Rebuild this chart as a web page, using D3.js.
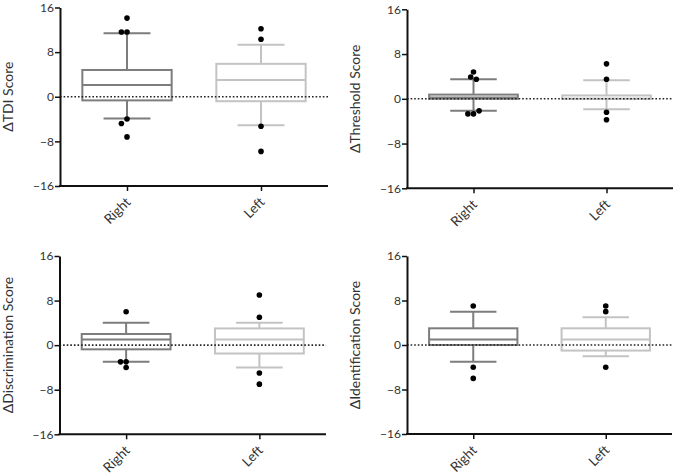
<!DOCTYPE html>
<html><head><meta charset="utf-8">
<script src="https://cdn.jsdelivr.net/npm/d3@7"></script>
<style>
body{margin:0;background:#fff;}
svg{display:block;font-family:Lato,"Open Sans",sans-serif;}
</style></head>
<body><svg id="c" width="678" height="475"></svg>
<script>
// ---- data ----
const categories = ["Right", "Left"];
const panelTitles = ["ΔTDI Score", "ΔThreshold Score", "ΔDiscrimination Score", "ΔIdentification Score"];
const yTicks = [-16, -8, 0, 8, 16];
// box stats: [whisker low, Q1, median, Q3, whisker high]
const tdiRight = [-3.9, -0.65, 2.1, 4.8, 11.4];
const tdiLeft = [-5.1, -0.8, 3.0, 5.9, 9.3];
const thrRight = [-2.15, 0, 0.25, 0.75, 3.5];
const thrLeft = [-1.85, 0, 0, 0.6, 3.3];
const disRight = [-3, -0.75, 1, 2, 4];
const disLeft = [-4, -1.5, 1, 3, 4];
const idnRight = [-3, 0, 1, 3, 6];
const idnLeft = [-2, -1, 1, 3, 5];
// outliers
const tdiRightOut = [14.1, 11.6, 11.6, -4, -4.8, -7.2];
const tdiLeftOut = [12.2, 10.3, -5.3, -9.8];
const thrRightOut = [4.8, 3.9, 3.5, -2.7, -2.7, -2.15];
const thrLeftOut = [6.25, 3.5, -2.4, -3.75];
const disRightOut = [6, -3, -3, -4];
const disLeftOut = [9, 5, -5, -7];
const idnRightOut = [7, -4, -6];
const idnLeftOut = [7, 6, -4];

const panelData = [
  {title: panelTitles[0], stats: [tdiRight, tdiLeft], out: [tdiRightOut, tdiLeftOut]},
  {title: panelTitles[1], stats: [thrRight, thrLeft], out: [thrRightOut, thrLeftOut]},
  {title: panelTitles[2], stats: [disRight, disLeft], out: [disRightOut, disLeftOut]},
  {title: panelTitles[3], stats: [idnRight, idnLeft], out: [idnRightOut, idnLeftOut]}
];

// ---- layout ----
const layouts = [
  {x0: 60, x1: 328, yTop: 7.5, yBot: 186},
  {x0: 407, x1: 673, yTop: 9.3, yBot: 188.3},
  {x0: 59.5, x1: 326, yTop: 256, yBot: 434.3},
  {x0: 407, x1: 672, yTop: 256, yBot: 434}
];
const colors = ["#7d7d7d", "#c3c3c3"];
const svg = d3.select("#c");

panelData.forEach((p, i) => {
  const L = layouts[i];
  const y = d3.scaleLinear().domain([-16, 16]).range([L.yBot, L.yTop]);
  const x = d3.scalePoint().domain(categories).range([L.x0, L.x1]).padding(0.5);
  const w = L.x1 - L.x0;
  const boxW = w / 3, capW = w * 0.175;
  const g = svg.append("g");

  categories.forEach((c, j) => {
    const s = p.stats[j];
    const cx = x(c);
    const col = colors[j];
    const bg = g.append("g").attr("stroke", col).attr("stroke-width", 2).attr("fill", "none");
    bg.append("line").attr("x1", cx).attr("x2", cx).attr("y1", y(s[3])).attr("y2", y(s[4]));
    bg.append("line").attr("x1", cx).attr("x2", cx).attr("y1", y(s[1])).attr("y2", y(s[0]));
    bg.append("line").attr("x1", cx - capW / 2).attr("x2", cx + capW / 2).attr("y1", y(s[4])).attr("y2", y(s[4]));
    bg.append("line").attr("x1", cx - capW / 2).attr("x2", cx + capW / 2).attr("y1", y(s[0])).attr("y2", y(s[0]));
    bg.append("rect").attr("x", cx - boxW / 2).attr("width", boxW)
      .attr("y", y(s[3])).attr("height", y(s[1]) - y(s[3])).attr("fill", "#fff");
    bg.append("line").attr("x1", cx - boxW / 2).attr("x2", cx + boxW / 2).attr("y1", y(s[2])).attr("y2", y(s[2]));
  });

  // zero dotted line
  g.append("line").attr("x1", L.x0).attr("x2", L.x1).attr("y1", y(0)).attr("y2", y(0))
    .attr("stroke", "#222").attr("stroke-width", 1.6).attr("stroke-dasharray", "1.6,2");

  // outliers with simple overlap avoidance
  const r = 2.8, d = 5.5, step = 2.8;
  categories.forEach((c, j) => {
    const cx = x(c);
    const placed = [];
    p.out[j].forEach(v => {
      const py = y(v);
      const cands = [0, -step, step, -2 * step, 2 * step, -3 * step, 3 * step];
      let dx = 0;
      for (const k of cands) {
        if (placed.every(q => Math.hypot(q[0] - k, q[1] - py) >= d)) { dx = k; break; }
      }
      placed.push([dx, py]);
      g.append("circle").attr("cx", cx + dx).attr("cy", py).attr("r", r).attr("fill", "#000");
    });
  });

  // axes
  const ya = g.append("g").attr("transform", `translate(${L.x0},0)`)
    .call(d3.axisLeft(y).tickValues(yTicks).tickSize(5).tickSizeOuter(0).tickPadding(1));
  ya.select(".domain").attr("stroke", "#111").attr("stroke-width", 2);
  ya.selectAll(".tick line").attr("stroke", "#111").attr("stroke-width", 1.5);
  ya.selectAll("text").attr("font-size", 12).attr("fill", "#333").attr("font-family", "Lato");

  const xa = g.append("g").attr("transform", `translate(0,${L.yBot})`)
    .call(d3.axisBottom(x).tickSize(5).tickSizeOuter(0));
  xa.select(".domain").attr("stroke", "#111").attr("stroke-width", 2)
    .attr("d", `M${L.x0 - 1},0H${L.x1}`);
  xa.selectAll(".tick line").attr("stroke", "#111").attr("stroke-width", 1.5);
  xa.selectAll("text").attr("font-size", 13.5).attr("fill", "#333").attr("font-family", "Lato")
    .attr("text-anchor", "end").attr("dy", null).attr("y", 0)
    .attr("transform", "translate(4,17) rotate(-45)");

  // y title
  g.append("text").attr("transform", `translate(${L.x0 - 47},${(L.yTop + L.yBot) / 2}) rotate(-90)`)
    .attr("text-anchor", "middle").attr("font-size", 14).attr("fill", "#333")
    .attr("font-family", "Lato")
    .text(p.title);
});
</script></body></html>
